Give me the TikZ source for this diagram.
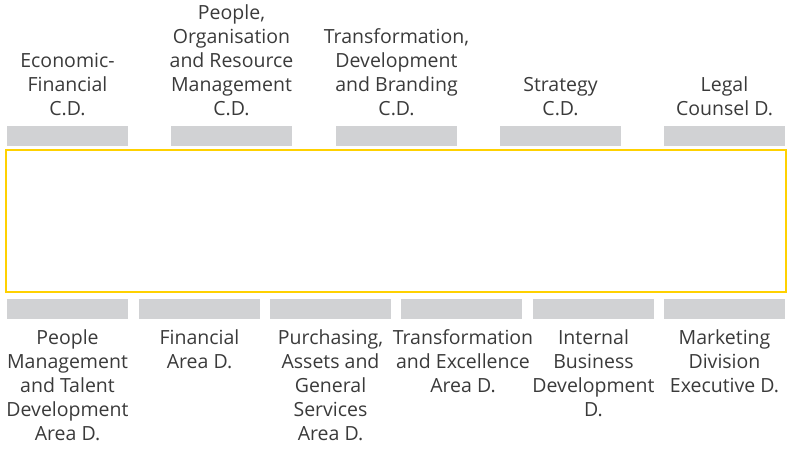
\documentclass[tikz,border=0pt]{standalone}
\usepackage{fontspec}
\setmainfont{Open Sans}
\usepackage{tikz}

\definecolor{barGray}{HTML}{D1D2D4}
\definecolor{frameYellow}{HTML}{FFD100}
\definecolor{labelText}{HTML}{3A3A3A}

\begin{document}
\begin{tikzpicture}[x=1pt, y=-1pt,
	bar/.style={rectangle, fill=barGray, inner sep=0pt, minimum width=121pt, minimum height=20pt},
	toplabel/.style={anchor=south, inner sep=0pt, align=center, text=labelText, font=\fontsize{19.5}{24}\selectfont},
	bottomlabel/.style={anchor=north, inner sep=0pt, align=center, text=labelText, font=\fontsize{19.5}{24}\selectfont}]
	\useasboundingbox (0, 0) rectangle (787, 448);
	% Define the frame
	\node[draw=frameYellow, line width=2.5pt, inner sep=0pt, minimum width=780pt, minimum height=142pt] at (396, 221) (frame) {};
	
	% Top bars and labels
	\node[bar] at (67.5, 136) (econ_bar) {};
	\node[bar] at (231.5, 136) (people_bar) {};
	\node[bar] at (396.5, 136) (transf_bar) {};
	\node[bar] at (560.5, 136) (strat_bar) {};
	\node[bar] at (724.5, 136) (legal_bar) {};
	
	\node[toplabel] at (67.5, 116) (econ) {Economic-\\Financial\\C.D.};
	\node[toplabel] at (231.5, 116) (people) {People,\\Organisation\\and Resource\\Management\\C.D.};
	\node[toplabel] at (396.5, 116) (transf) {Transformation,\\Development\\and Branding\\C.D.};
	\node[toplabel] at (560.5, 116) (strat) {Strategy\\C.D.};
	\node[toplabel] at (724.5, 116) (legal) {Legal\\Counsel D.};
	
	% Bottom bars and labels
	\node[bar] at (67.5, 309) (talent_bar) {};
	\node[bar] at (199.5, 309) (fin_bar) {};
	\node[bar] at (330.5, 309) (purch_bar) {};
	\node[bar] at (461.5, 309) (excel_bar) {};
	\node[bar] at (593.5, 309) (busdev_bar) {};
	\node[bar] at (724.5, 309) (mkt_bar) {};
	
	\node[bottomlabel] at (67.5, 329) (talent) {People\\Management\\and Talent\\Development\\Area D.};
	\node[bottomlabel] at (199.5, 329) (fin) {Financial\\Area D.};
	\node[bottomlabel] at (330.5, 329) (purch) {Purchasing,\\Assets and\\General\\Services\\Area D.};
	\node[bottomlabel] at (463, 329) (excel) {Transformation\\and Excellence\\Area D.};
	\node[bottomlabel] at (593.5, 329) (busdev) {Internal\\Business\\Development\\D.};
	\node[bottomlabel] at (724.5, 329) (mkt) {Marketing\\Division\\Executive D.};
\end{tikzpicture}
\end{document}
